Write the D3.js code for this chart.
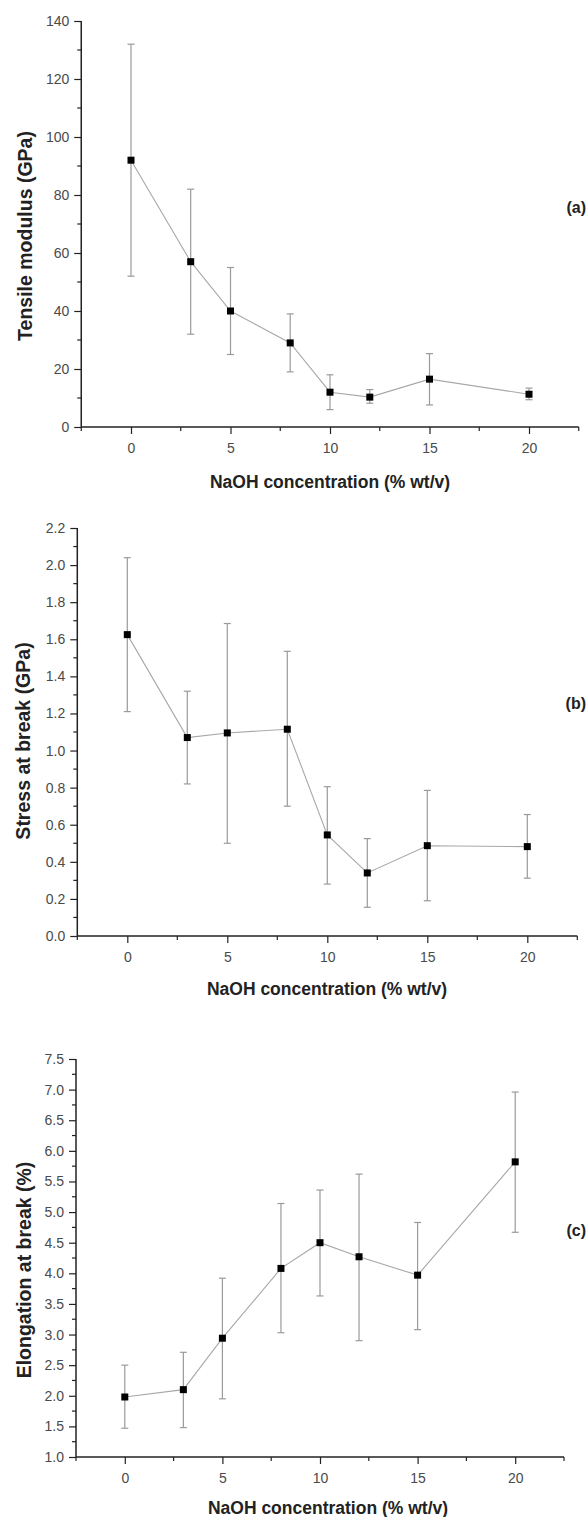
<!DOCTYPE html>
<html>
<head>
<meta charset="utf-8">
<script src="https://cdn.jsdelivr.net/npm/d3@7"></script>
<style>
  html, body { margin: 0; padding: 0; background: #fff; }
  svg { display: block; }
  .tick text { font-family: "Liberation Sans", Arial, sans-serif; font-size: 14px; fill: #4a4a4a; }
  .x-title { font-family: "Liberation Sans", Arial, sans-serif; font-weight: bold; font-size: 17.5px; fill: #222; }
  .y-title { font-family: "Liberation Sans", Arial, sans-serif; font-weight: bold; font-size: 19.5px; fill: #222; }
  .panel-tag { font-family: "Liberation Sans", Arial, sans-serif; font-weight: bold; font-size: 16px; fill: #222; }
</style>
</head>
<body>
<svg id="fig" width="588" height="1517"></svg>
<script>
// NaOH concentration of the treatment (% wt/v)
const concentration = [0, 3, 5, 8, 10, 12, 15, 20];
const xTickValues = [0, 5, 10, 15, 20];

// (a) Tensile modulus (GPa): mean and error-bar limits
const modulusMean = [92, 57, 40, 29, 12, 10.3, 16.5, 11.3];
const modulusLow  = [52, 32, 25, 19, 6, 8.2, 7.6, 9.4];
const modulusHigh = [132, 82, 55, 39, 18, 12.9, 25.3, 13.4];
const modulusTicks = [0, 20, 40, 60, 80, 100, 120, 140];

// (b) Stress at break (GPa)
const stressMean = [1.625, 1.07, 1.095, 1.115, 0.545, 0.34, 0.487, 0.482];
const stressLow  = [1.21, 0.82, 0.50, 0.70, 0.28, 0.155, 0.19, 0.312];
const stressHigh = [2.04, 1.32, 1.685, 1.535, 0.805, 0.525, 0.785, 0.655];
const stressTicks = [0.0, 0.2, 0.4, 0.6, 0.8, 1.0, 1.2, 1.4, 1.6, 1.8, 2.0, 2.2];

// (c) Elongation at break (%)
const elongMean = [1.98, 2.1, 2.94, 4.08, 4.5, 4.27, 3.97, 5.82];
const elongLow  = [1.47, 1.48, 1.95, 3.03, 3.63, 2.9, 3.08, 4.67];
const elongHigh = [2.5, 2.71, 3.92, 5.14, 5.36, 5.62, 4.83, 6.96];
const elongTicks = [1.0, 1.5, 2.0, 2.5, 3.0, 3.5, 4.0, 4.5, 5.0, 5.5, 6.0, 6.5, 7.0, 7.5];

const xTitle = "NaOH concentration (% wt/v)";

const svg = d3.select("#fig");

function drawPanel(opts) {
  const g = svg.append("g");
  const x = d3.scaleLinear().domain([-2.5, 22.5]).range([opts.left, opts.right]);
  const y = d3.scaleLinear().domain(opts.yDomain).range([opts.bottom, opts.top]);

  // x axis: labelled major ticks plus half-step minor ticks
  const xMinor = d3.range(-2.5, 23, 5);
  const xAxis = g.append("g").attr("transform", `translate(0,${opts.bottom})`);
  xAxis.call(d3.axisBottom(x).tickValues(xTickValues).tickSize(7).tickPadding(9).tickFormat(d3.format("d")));
  xAxis.append("g").selectAll("line").data(xMinor).join("line")
    .attr("x1", d => x(d)).attr("x2", d => x(d)).attr("y1", 0).attr("y2", 4)
    .attr("stroke", "#222").attr("stroke-width", 1.2);

  // y axis
  const yAxis = g.append("g").attr("transform", `translate(${opts.left},0)`);
  yAxis.call(d3.axisLeft(y).tickValues(opts.yTicks).tickSize(7).tickPadding(5).tickFormat(opts.yFormat));
  const yMinor = opts.yTicks.slice(0, -1).map((v, i) => (v + opts.yTicks[i + 1]) / 2);
  yAxis.append("g").selectAll("line").data(yMinor).join("line")
    .attr("x1", 0).attr("x2", -4).attr("y1", d => y(d)).attr("y2", d => y(d))
    .attr("stroke", "#222").attr("stroke-width", 1.2);

  [xAxis, yAxis].forEach(a => {
    a.select(".domain").attr("stroke", "#222").attr("stroke-width", 1.5)
      .attr("d", a === xAxis ? `M${opts.left},0H${opts.right}` : `M0,${opts.bottom}V${opts.top}`);
    a.selectAll(".tick line").attr("stroke", "#222").attr("stroke-width", 1.2);
  });

  const pts = concentration.map((c, i) => ({ c, m: opts.mean[i], lo: opts.low[i], hi: opts.high[i] }));

  // connecting line
  g.append("path").datum(pts)
    .attr("fill", "none").attr("stroke", "#a8a8a8").attr("stroke-width", 1.1)
    .attr("d", d3.line().x(d => x(d.c)).y(d => y(d.m)));

  // error bars with caps
  const eb = g.append("g").attr("stroke", "#9a9a9a").attr("stroke-width", 1.2);
  eb.selectAll("line.v").data(pts).join("line").attr("class", "v")
    .attr("x1", d => x(d.c)).attr("x2", d => x(d.c)).attr("y1", d => y(d.lo)).attr("y2", d => y(d.hi));
  eb.selectAll("line.hi").data(pts).join("line").attr("class", "hi")
    .attr("x1", d => x(d.c) - 3.5).attr("x2", d => x(d.c) + 3.5).attr("y1", d => y(d.hi)).attr("y2", d => y(d.hi));
  eb.selectAll("line.lo").data(pts).join("line").attr("class", "lo")
    .attr("x1", d => x(d.c) - 3.5).attr("x2", d => x(d.c) + 3.5).attr("y1", d => y(d.lo)).attr("y2", d => y(d.lo));

  // square markers
  g.append("g").selectAll("rect").data(pts).join("rect")
    .attr("x", d => x(d.c) - 3.5).attr("y", d => y(d.m) - 3.5)
    .attr("width", 7).attr("height", 7).attr("fill", "#000");

  // titles
  g.append("text").attr("class", "x-title")
    .attr("x", opts.xTitleX).attr("y", opts.bottom + opts.xTitleGap)
    .attr("text-anchor", "middle").text(xTitle);
  g.append("text").attr("class", "y-title")
    .attr("transform", `translate(${opts.yTitleX},${opts.yTitleY}) rotate(-90)`)
    .attr("text-anchor", "middle").text(opts.yTitle);
  g.append("text").attr("class", "panel-tag")
    .attr("x", 586).attr("y", opts.tagY).attr("text-anchor", "end").text(opts.tag);
}

drawPanel({
  left: 81.25, right: 578.75, top: 21, bottom: 427,
  yDomain: [0, 140], yTicks: modulusTicks, yFormat: d3.format("d"),
  mean: modulusMean, low: modulusLow, high: modulusHigh,
  xTitleX: 330, xTitleGap: 61,
  yTitle: "Tensile modulus (GPa)", yTitleX: 32, yTitleY: 236,
  tag: "(a)", tagY: 213
});

drawPanel({
  left: 77.3, right: 577.3, top: 528, bottom: 936,
  yDomain: [0, 2.2], yTicks: stressTicks, yFormat: d3.format(".1f"),
  mean: stressMean, low: stressLow, high: stressHigh,
  xTitleX: 327, xTitleGap: 59,
  yTitle: "Stress at break (GPa)", yTitleX: 30, yTitleY: 741,
  tag: "(b)", tagY: 709
});

drawPanel({
  left: 76, right: 564, top: 1059, bottom: 1457,
  yDomain: [1.0, 7.5], yTicks: elongTicks, yFormat: d3.format(".1f"),
  mean: elongMean, low: elongLow, high: elongHigh,
  xTitleX: 328, xTitleGap: 57,
  yTitle: "Elongation at break (%)", yTitleX: 31, yTitleY: 1270,
  tag: "(c)", tagY: 1236
});
</script>
</body>
</html>
